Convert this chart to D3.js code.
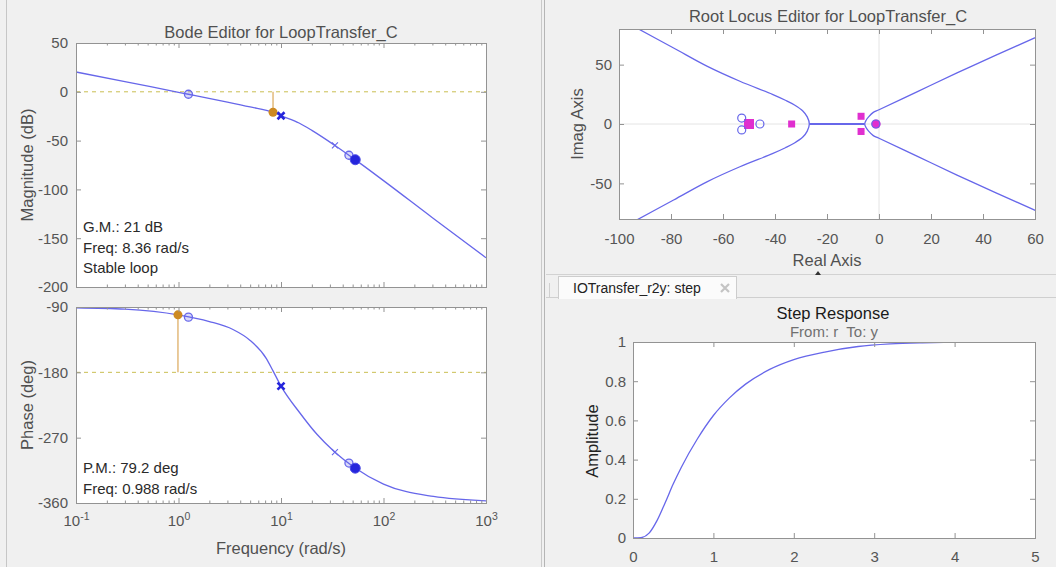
<!DOCTYPE html>
<html>
<head>
<meta charset="utf-8">
<script src="https://cdn.jsdelivr.net/npm/d3@7"></script>
<style>
body { margin: 0; background: #f0f0f0; }
svg { display: block; }
</style>
</head>
<body>
<svg></svg>
<script>
// open loop bode
var magFreq = [0.1, 0.3, 1, 1.25, 3, 5, 8.36, 10, 15, 20, 33.6, 52, 100, 300, 1000]
var magDb = [20.3, 10.5, -0.5, -2.5, -10.5, -15.5, -21, -24.5, -32, -39.5, -55, -69, -91, -129, -170]
var phaseFreq = [0.1, 0.3, 0.988, 2, 3.4, 5, 7.2, 8.36, 10, 15.3, 22.3, 33.6, 52, 100, 307, 1000]
var phaseDeg = [-91, -93, -100.8, -110, -121, -136, -161, -178, -199, -236, -265, -290, -311, -334, -351, -357]

// compensator / plant markers sitting on the bode curves
var markFreq = [1.25, 10, 33.6, 46, 53]
var markMag = [-2.5, -24.5, -55, -65, -69.6]
var markPhase = [-104, -199, -290, -305, -312]
var markKind = ['o', 'X', 'x', 'o', 'O']

// margins
var gmFreq = 8.36, gmDb = -21
var pmFreq = 0.988, pmDeg = -100.8
var gmText = ['G.M.: 21 dB', 'Freq: 8.36 rad/s', 'Stable loop']
var pmText = ['P.M.: 79.2 deg', 'Freq: 0.988 rad/s']

var magTicks = [50, 0, -50, -100, -150, -200]
var phaseTicks = [-90, -180, -270, -360]
var freqTicks = [0.1, 1, 10, 100, 1000]

// root locus, [re, im], upper halves (lower half is the mirror)
var rlLeft = [[-26.8, 0], [-27.6, 6], [-29.3, 11], [-32.5, 16], [-36, 20], [-41, 25], [-53.5, 36], [-66, 48.5], [-79, 64], [-95, 83]]
var rlRight = [[-5.5, 0], [-5, 3], [-4, 6], [-2.2, 9.8], [0, 12], [15, 27.5], [30, 43], [45, 58], [63, 75.5]]
var rlRealSeg = [-26.8, -5.5]
var rlZeros = [[-52.8, 5], [-52.8, -5], [-45.8, 0], [-1.25, 0]]
var rlClosed = [[-50, 0], [-33.6, 0], [-6.9, 6.5], [-6.9, -6.3]]
var rlComp = [[-1.1, 0]]
var reTicks = [-100, -80, -60, -40, -20, 0, 20, 40, 60]
var imTicks = [-50, 0, 50]

// closed loop step r -> y
var stepT = [0, 0.1, 0.2, 0.3, 0.4, 0.5, 0.6, 0.8, 1.0, 1.2, 1.4, 1.7, 2.0, 2.4, 2.8, 3.2, 3.6, 4.0, 4.5, 5.0]
var stepY = [0, 0.002, 0.025, 0.09, 0.18, 0.275, 0.36, 0.505, 0.625, 0.715, 0.785, 0.86, 0.91, 0.95, 0.977, 0.99, 0.996, 0.999, 1.0, 1.0]
var tTicks = [0, 1, 2, 3, 4, 5]
var ampTicks = [0, 0.2, 0.4, 0.6, 0.8, 1]

var width = 1056
var height = 567
var font = '"Liberation Sans", Arial, sans-serif'
var tickColor = '#939393'
var labelColor = '#555'
var blue = '#6767ea'
var darkBlue = '#2525dc'
var pink = '#e02fcf'
var orange = '#cd8a22'

var svg = d3.select('svg').attr('width', width).attr('height', height)
	.attr('font-family', font)

svg.append('rect').attr('width', width).attr('height', height).attr('fill', '#f0f0f0')

// window furniture
function vline(x, y0, y1, c) {
	svg.append('line').attr('x1', x).attr('x2', x).attr('y1', y0).attr('y2', y1).attr('stroke', c)
}
function hline(y, x0, x1, c) {
	svg.append('line').attr('x1', x0).attr('x2', x1).attr('y1', y).attr('y2', y).attr('stroke', c)
}
vline(6.5, 0, height, '#c6c6c6')
vline(541.5, 0, height, '#c9c9c9')
vline(544.5, 0, height, '#b5b5b5')
hline(274.5, 546, width, '#d2d2d2')
hline(297.5, 546, 558, '#cfcfcf')
hline(297.5, 737, width, '#cfcfcf')
vline(549.5, 283, 298, '#cfcfcf')
svg.append('rect').attr('x', 558.5).attr('y', 276.5).attr('width', 178).attr('height', 22)
	.attr('fill', '#fbfbfb').attr('stroke', '#cdcdcd')
svg.append('rect').attr('x', 559).attr('y', 297).attr('width', 177).attr('height', 2).attr('fill', '#fbfbfb')
svg.append('text').attr('x', 573).attr('y', 293).attr('font-size', 14).attr('fill', '#222')
	.text('IOTransfer_r2y: step')
svg.append('path').attr('d', 'M721,284L729,292M721,292L729,284')
	.attr('stroke', '#c4c4c4').attr('stroke-width', 2.2)
svg.append('path').attr('d', 'M818,271L815,275L821,275Z').attr('fill', '#333')

function blank() {return ''}
function plain(d) {return String(d)}

function plotArea(x, y, id) {
	var xr = x.range(), yr = y.range()
	svg.append('rect').attr('x', xr[0]).attr('y', yr[1])
		.attr('width', xr[1] - xr[0]).attr('height', yr[0] - yr[1]).attr('fill', '#fff')
	svg.append('clipPath').attr('id', id).append('rect').attr('x', xr[0]).attr('y', yr[1])
		.attr('width', xr[1] - xr[0]).attr('height', yr[0] - yr[1])
	return svg.append('g').attr('clip-path', 'url(#' + id + ')')
}

function axes(x, y, o) {
	var xr = x.range(), yr = y.range()
	var parts = []
	parts.push(svg.append('g').attr('transform', 'translate(0,' + yr[0] + ')')
		.call(d3.axisBottom(x).tickValues(o.xTicks).tickSize(-5).tickPadding(o.xPad || 0).tickFormat(o.xFormat || blank)))
	parts.push(svg.append('g').attr('transform', 'translate(0,' + yr[1] + ')')
		.call(d3.axisTop(x).tickValues(o.xTicks).tickSize(-5).tickFormat(blank)))
	parts.push(svg.append('g').attr('transform', 'translate(' + xr[0] + ',0)')
		.call(d3.axisLeft(y).tickValues(o.yTicks).tickSize(-5).tickPadding(o.yPad || 0).tickFormat(o.yFormat || blank)))
	parts.push(svg.append('g').attr('transform', 'translate(' + xr[1] + ',0)')
		.call(d3.axisRight(y).tickValues(o.yTicks).tickSize(-5).tickFormat(blank)))
	if (o.xMinor) {
		parts.push(svg.append('g').attr('transform', 'translate(0,' + yr[0] + ')')
			.call(d3.axisBottom(x).tickValues(o.xMinor).tickSize(-2.5).tickFormat(blank)))
		parts.push(svg.append('g').attr('transform', 'translate(0,' + yr[1] + ')')
			.call(d3.axisTop(x).tickValues(o.xMinor).tickSize(-2.5).tickFormat(blank)))
	}
	parts.forEach(function(a) {
		a.attr('font-size', 15).attr('font-family', font)
		a.select('.domain').remove()
		a.selectAll('.tick line').attr('stroke', tickColor)
		a.selectAll('.tick text').attr('fill', labelColor)
	})
	svg.append('rect').attr('x', xr[0] + 0.5).attr('y', yr[1] + 0.5)
		.attr('width', xr[1] - xr[0]).attr('height', yr[0] - yr[1])
		.attr('fill', 'none').attr('stroke', tickColor)
	return parts[0]
}

function label(x, y, txt, size, color, rotate) {
	var t = svg.append('text').attr('text-anchor', 'middle').attr('font-size', size).attr('fill', color)
		.style('white-space', 'pre').text(txt)
	if (rotate) t.attr('transform', 'translate(' + x + ',' + y + ') rotate(-90)').attr('dy', '0.35em')
	else t.attr('x', x).attr('y', y)
	return t
}

function marker(g, kind, px, py) {
	if (kind === 'o') {
		g.append('circle').attr('cx', px).attr('cy', py).attr('r', 4)
			.attr('fill', 'rgba(103,103,234,0.25)').attr('stroke', blue).attr('stroke-width', 1.3)
	} else if (kind === 'O') {
		g.append('circle').attr('cx', px).attr('cy', py).attr('r', 5).attr('fill', darkBlue)
			.attr('stroke', '#4a4ae6').attr('stroke-width', 1)
	} else {
		var s = kind === 'X' ? 3.5 : 3
		g.append('path')
			.attr('d', 'M' + (px - s) + ',' + (py - s) + 'L' + (px + s) + ',' + (py + s) +
				'M' + (px - s) + ',' + (py + s) + 'L' + (px + s) + ',' + (py - s))
			.attr('stroke', kind === 'X' ? darkBlue : blue).attr('stroke-width', kind === 'X' ? 2.6 : 1.1)
	}
}

// ---------- bode magnitude ----------
var xf = d3.scaleLog().domain([0.1, 1000]).range([76, 486])
var yMag = d3.scaleLinear().domain([-200, 50]).range([287, 43])
var yPh = d3.scaleLinear().domain([-360, -90]).range([503, 307])

var minorF = []
freqTicks.slice(0, -1).forEach(function(d) {
	for (var k = 2; k < 10; k++) minorF.push(d * k)
})

var magG = plotArea(xf, yMag, 'clipMag')
magG.append('line').attr('x1', 76).attr('x2', 486).attr('y1', yMag(0)).attr('y2', yMag(0))
	.attr('stroke', '#c9be52').attr('stroke-dasharray', '4,4')
magG.append('line').attr('x1', xf(gmFreq)).attr('x2', xf(gmFreq)).attr('y1', yMag(0)).attr('y2', yMag(gmDb))
	.attr('stroke', '#dba85a').attr('stroke-width', 1.2)
magG.append('path')
	.attr('d', d3.line().x(function(d, i) {return xf(d)}).y(function(d, i) {return yMag(magDb[i])})
		.curve(d3.curveMonotoneX)(magFreq))
	.attr('fill', 'none').attr('stroke', blue).attr('stroke-width', 1.3)
magG.append('circle').attr('cx', xf(gmFreq)).attr('cy', yMag(gmDb)).attr('r', 4.5).attr('fill', orange)
markFreq.forEach(function(f, i) {marker(magG, markKind[i], xf(f), yMag(markMag[i]))})
axes(xf, yMag, {xTicks: freqTicks, xMinor: minorF, yTicks: magTicks, yFormat: plain, yPad: 8})

gmText.forEach(function(t, i) {
	svg.append('text').attr('x', 83).attr('y', 232 + i * 20.5).attr('font-size', 15).attr('fill', '#2a2a2a').text(t)
})

// ---------- bode phase ----------
var phG = plotArea(xf, yPh, 'clipPh')
phG.append('line').attr('x1', 76).attr('x2', 486).attr('y1', yPh(-180)).attr('y2', yPh(-180))
	.attr('stroke', '#c9be52').attr('stroke-dasharray', '4,4')
phG.append('line').attr('x1', xf(pmFreq)).attr('x2', xf(pmFreq)).attr('y1', yPh(-180)).attr('y2', yPh(pmDeg))
	.attr('stroke', '#dba85a').attr('stroke-width', 1.2)
phG.append('path')
	.attr('d', d3.line().x(function(d) {return xf(d)}).y(function(d, i) {return yPh(phaseDeg[i])})
		.curve(d3.curveMonotoneX)(phaseFreq))
	.attr('fill', 'none').attr('stroke', blue).attr('stroke-width', 1.3)
phG.append('circle').attr('cx', xf(pmFreq)).attr('cy', yPh(pmDeg)).attr('r', 4.5).attr('fill', orange)
markFreq.forEach(function(f, i) {marker(phG, markKind[i], xf(f), yPh(markPhase[i]))})
var fAxis = axes(xf, yPh, {xTicks: freqTicks, xMinor: minorF, xPad: 12, xFormat: function() {return '10'},
	yTicks: phaseTicks, yFormat: plain, yPad: 8})
fAxis.selectAll('.tick text').each(function(d) {
	d3.select(this).append('tspan').attr('dy', '-0.55em').attr('font-size', 10.5)
		.text(String(Math.round(Math.log10(d))))
})

pmText.forEach(function(t, i) {
	svg.append('text').attr('x', 83).attr('y', 473 + i * 21).attr('font-size', 15).attr('fill', '#2a2a2a').text(t)
})

label(281, 38, 'Bode Editor for LoopTransfer_C', 16.5, '#505050')
label(27, 165, 'Magnitude (dB)', 16.5, '#505050', true)
label(27, 405, 'Phase (deg)', 16.5, '#505050', true)
label(281, 554, 'Frequency (rad/s)', 16.5, '#505050')

// ---------- root locus ----------
var xRe = d3.scaleLinear().domain([-100, 60]).range([619, 1035])
var yIm = d3.scaleLinear().domain([-80, 80]).range([219, 29])
var rlG = plotArea(xRe, yIm, 'clipRl')
rlG.append('line').attr('x1', 619).attr('x2', 1035).attr('y1', yIm(0)).attr('y2', yIm(0)).attr('stroke', '#e4e4e4')
rlG.append('line').attr('x1', xRe(0)).attr('x2', xRe(0)).attr('y1', 29).attr('y2', 219).attr('stroke', '#e4e4e4')

var rlLine = d3.line().x(function(d) {return xRe(d[0])}).y(function(d) {return yIm(d[1])})
	.curve(d3.curveCatmullRom.alpha(0.5))
function mirrored(branch) {
	var low = branch.map(function(p) {return [p[0], -p[1]]}).reverse()
	return low.concat(branch.slice(1))
}
rlG.selectAll('path.branch').data([mirrored(rlLeft), mirrored(rlRight)]).enter().append('path')
	.attr('class', 'branch').attr('d', rlLine)
	.attr('fill', 'none').attr('stroke', blue).attr('stroke-width', 1.3)
rlG.append('line').attr('x1', xRe(rlRealSeg[0])).attr('x2', xRe(rlRealSeg[1]))
	.attr('y1', yIm(0)).attr('y2', yIm(0)).attr('stroke', blue).attr('stroke-width', 1.8)

rlG.selectAll('rect.cl').data(rlClosed).enter().append('rect').attr('class', 'cl')
	.attr('x', function(d, i) {return xRe(d[0]) - (i === 0 ? 5 : 3.5)})
	.attr('y', function(d, i) {return yIm(d[1]) - (i === 0 ? 5 : 3.5)})
	.attr('width', function(d, i) {return i === 0 ? 10 : 7})
	.attr('height', function(d, i) {return i === 0 ? 10 : 7})
	.attr('fill', pink)
rlG.selectAll('circle.comp').data(rlComp).enter().append('circle').attr('class', 'comp')
	.attr('cx', function(d) {return xRe(d[0])}).attr('cy', function(d) {return yIm(d[1])})
	.attr('r', 4.5).attr('fill', pink)
rlG.selectAll('circle.zero').data(rlZeros).enter().append('circle').attr('class', 'zero')
	.attr('cx', function(d) {return xRe(d[0])}).attr('cy', function(d) {return yIm(d[1])})
	.attr('r', 4).attr('fill', 'none').attr('stroke', blue).attr('stroke-width', 1.2)

axes(xRe, yIm, {xTicks: reTicks, xFormat: plain, xPad: 14, yTicks: imTicks, yFormat: plain, yPad: 7})
label(828, 22, 'Root Locus Editor for LoopTransfer_C', 16.5, '#505050')
label(827, 266, 'Real Axis', 16.5, '#505050')
label(577, 124, 'Imag Axis', 16.5, '#505050', true)

// ---------- step response ----------
var xT = d3.scaleLinear().domain([0, 5]).range([633, 1035])
var yA = d3.scaleLinear().domain([0, 1]).range([538, 342])
var stG = plotArea(xT, yA, 'clipStep')
stG.append('path')
	.attr('d', d3.line().x(function(d) {return xT(d)}).y(function(d, i) {return yA(stepY[i])})
		.curve(d3.curveMonotoneX)(stepT))
	.attr('fill', 'none').attr('stroke', blue).attr('stroke-width', 1.3)
axes(xT, yA, {xTicks: tTicks, xFormat: plain, xPad: 13, yTicks: ampTicks, yFormat: plain, yPad: 7})
label(833, 319, 'Step Response', 16.5, '#1a1a1a')
label(834, 337, 'From: r  To: y', 15, '#707070')
label(592, 441, 'Amplitude', 16.5, '#222', true)
</script>
</body>
</html>
